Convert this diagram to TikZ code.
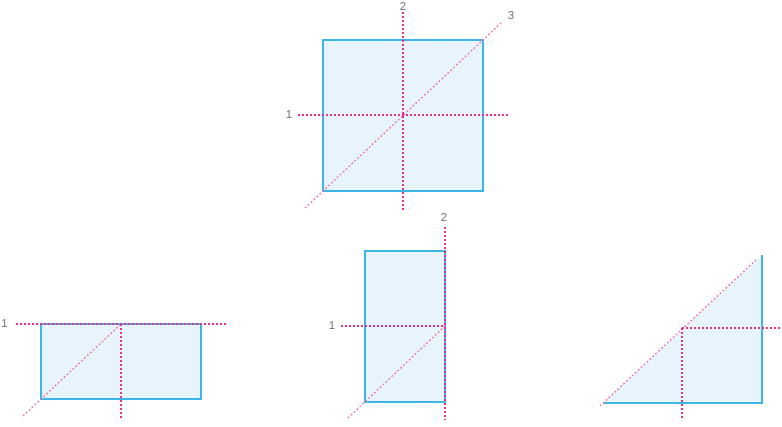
\documentclass[tikz,border=0pt]{standalone}
\usepackage{fontspec}
\setmainfont{Liberation Sans}
\definecolor{edge}{HTML}{3DB5E6}
\definecolor{paper}{HTML}{E8F4FC}
\definecolor{fold}{HTML}{E8308A}
\definecolor{foldlight}{HTML}{EF6FAD}
\definecolor{lab}{HTML}{707070}
\begin{document}
\begin{tikzpicture}[x=1pt,y=-1pt,
  sheet/.style={fill=paper,draw=edge,line width=1.4pt},
  rim/.style={draw=edge,line width=1.4pt},
  foldline/.style={draw=fold,line width=1.9pt,dash pattern=on 2.3pt off 1.7pt},
  diagline/.style={draw=foldlight,line width=1.2pt,dash pattern=on 1.8pt off 2.2pt},
  num/.style={text=lab,font=\fontsize{11.5}{13}\selectfont,inner sep=0pt}]
\useasboundingbox (0,0) rectangle (782,426);

% ---------- top square ----------
\draw[sheet] (323,40) rectangle (483,191);
\coordinate (h1a) at (298,115); \coordinate (h1b) at (509,115);
\coordinate (v2a) at (403,12);  \coordinate (v2b) at (403,210);
\coordinate (d3a) at (305,208); \coordinate (d3b) at (501,23);
\draw[diagline] (d3a) -- (d3b);
\draw[foldline] (h1a) -- (h1b);
\draw[foldline] (v2a) -- (v2b);
\node[num] (t1) at (289,115) {1};
\node[num] (t2) at (403,6) {2};
\node[num] (t3) at (511,16) {3};

% ---------- bottom left ----------
\draw[sheet] (41,324) rectangle (201,399);
\coordinate (a1a) at (16,324);  \coordinate (a1b) at (227,324);
\coordinate (a2a) at (121,324); \coordinate (a2b) at (121,418);
\coordinate (a3a) at (23,416);
\draw[diagline] (a3a) -- (a2a);
\draw[foldline] (a1a) -- (a1b);
\draw[foldline] (a2a) -- (a2b);
\node[num,anchor=east] (l1) at (8,324) {1};

% ---------- bottom middle ----------
\draw[sheet] (365,251) rectangle (445,402);
\coordinate (b1a) at (341,326); \coordinate (b1b) at (445,326);
\coordinate (b2a) at (445,227); \coordinate (b2b) at (445,420);
\coordinate (b3a) at (348,418);
\draw[diagline] (b3a) -- (b1b);
\draw[foldline] (b1a) -- (b1b);
\draw[foldline] (b2a) -- (b2b);
\node[num] (m1) at (332,326) {1};
\node[num] (m2) at (444,217) {2};

% ---------- bottom right ----------
\fill[paper] (603,403) -- (762,403) -- (762,255) -- cycle;
\draw[rim] (603,403) -- (762,403) -- (762,255);
\coordinate (c1a) at (682,328); \coordinate (c1b) at (782,328);
\coordinate (c2b) at (682,420);
\coordinate (c3a) at (600,406); \coordinate (c3b) at (757,259);
\draw[diagline] (c3a) -- (c3b);
\draw[foldline] (c1a) -- (c1b);
\draw[foldline] (c1a) -- (c2b);
\end{tikzpicture}
\end{document}
